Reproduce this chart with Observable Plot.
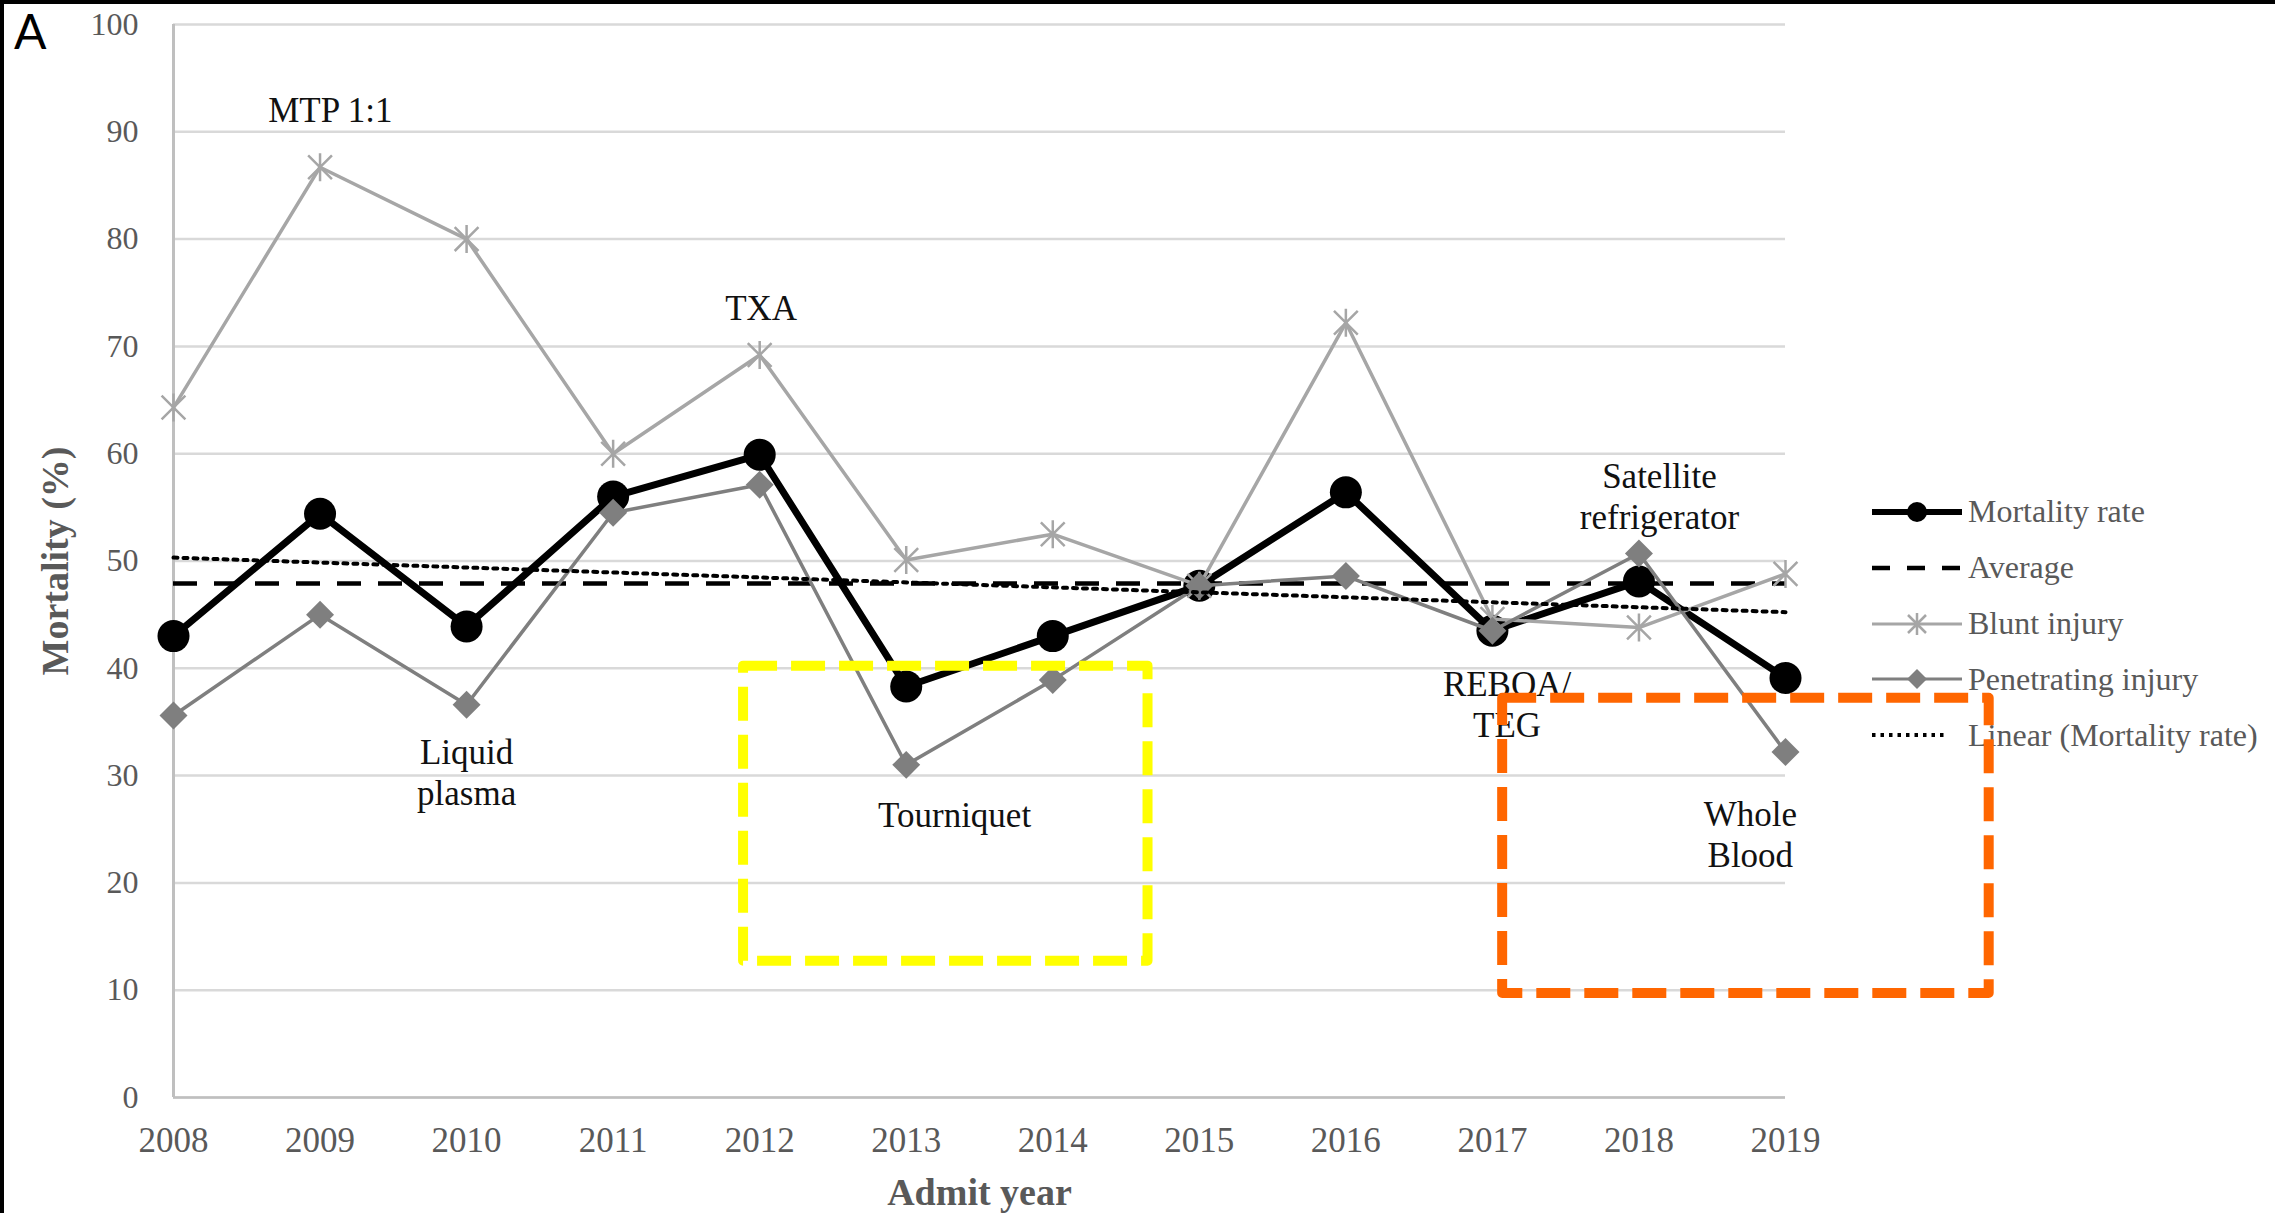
<!DOCTYPE html>
<html>
<head>
<meta charset="utf-8">
<script src="https://cdn.jsdelivr.net/npm/d3@7"></script>
<script src="https://cdn.jsdelivr.net/npm/@observablehq/plot@0.6"></script>
<style>
  html, body { margin: 0; padding: 0; background: #fff; }
  #wrap { position: relative; width: 2275px; height: 1213px; overflow: hidden; background: #fff; }
  #chart { position: absolute; left: 0; top: 0; }
  #legend { position: absolute; left: 1872px; top: 484px; font-family: "Liberation Serif", "Times New Roman", serif; font-size: 32px; color: #595959; }
  .row { display: flex; align-items: center; height: 55.8px; white-space: nowrap; }
  .row svg { flex: none; margin-right: 4px; }
  #panel { position: absolute; left: 14px; top: 7px; font-family: Lato, "Open Sans", sans-serif; font-size: 48px; line-height: 1; color: #000; }
  .frameTop { position: absolute; left: 0; top: 0; width: 2275px; height: 4px; background: #000; }
  .frameLeft { position: absolute; left: 0; top: 0; width: 4px; height: 1213px; background: #000; }
</style>
</head>
<body>
<div id="wrap">
  <div id="legend"></div>
  <div id="chart"></div>
  <div id="panel">A</div>
  <div class="frameTop"></div>
  <div class="frameLeft"></div>
</div>
<script>
// ---- data ----
const years = [2008, 2009, 2010, 2011, 2012, 2013, 2014, 2015, 2016, 2017, 2018, 2019];
const mortality = [43.0, 54.4, 43.9, 56.0, 59.9, 38.3, 43.0, 47.7, 56.4, 43.5, 48.1, 39.1];
const blunt = [64.3, 86.7, 80.0, 60.0, 69.2, 50.1, 52.5, 47.7, 72.2, 44.6, 43.8, 48.8];
const penetrating = [35.6, 45.0, 36.6, 54.5, 57.1, 31.0, 38.9, 47.7, 48.6, 43.5, 50.7, 32.2];
const average = [47.9];
const yTicks = [0, 10, 20, 30, 40, 50, 60, 70, 80, 90, 100];

const noteLabels = ["MTP 1:1", "TXA", "Liquid\nplasma", "Tourniquet", "REBOA/\nTEG", "Satellite\nrefrigerator", "Whole\nBlood"];
const noteYears = [2009.07, 2012.01, 2010.0, 2013.33, 2017.10, 2018.14, 2018.76];
const noteValues = [92.1, 73.7, 30.4, 26.4, 36.7, 56.1, 24.6];

const boxYearStart = [2011.89, 2017.07];
const boxYearEnd = [2014.65, 2020.39];
const boxTop = [40.2, 37.2];
const boxBottom = [12.7, 9.7];

const legendLabels = ["Mortality rate", "Average", "Blunt injury", "Penetrating injury", "Linear (Mortality rate)"];

// ---- styles ----
const boxColors = ["#FFFF00", "#FF6600"];
const bluntColor = "#A6A6A6";
const penColor = "#7F7F7F";

const data = years.map((year, i) => ({year, mortality: mortality[i], blunt: blunt[i], penetrating: penetrating[i]}));
const notes = noteLabels.map((label, i) => ({label, year: noteYears[i], value: noteValues[i]}));
const boxes = boxYearStart.map((x1, i) => ({x1, x2: boxYearEnd[i], y1: boxBottom[i], y2: boxTop[i]}));

// Excel-like star marker (X with a vertical bar)
const excelStar = {
  draw(context, size) {
    const r = Math.sqrt(size / Math.PI);
    const d = r * 0.85;
    context.moveTo(-d, -d); context.lineTo(d, d);
    context.moveTo(-d, d); context.lineTo(d, -d);
    context.moveTo(0, -r); context.lineTo(0, r);
  }
};

const chart = Plot.plot({
  width: 2275,
  height: 1213,
  marginTop: 24,
  marginBottom: 116,
  marginLeft: 173,
  marginRight: 490,
  style: {background: "transparent", fontFamily: "'Liberation Serif', 'Times New Roman', serif", overflow: "visible"},
  x: {type: "linear", domain: [years[0], years[years.length - 1]]},
  y: {domain: [0, 100]},
  marks: [
    Plot.gridY(yTicks, {stroke: "#D9D9D9", strokeOpacity: 1, strokeWidth: 2.5}),
    Plot.ruleY([0], {stroke: "#BFBFBF", strokeWidth: 2.5}),
    Plot.ruleX([years[0]], {stroke: "#BFBFBF", strokeWidth: 3}),
    Plot.axisY(yTicks, {tickSize: 0, tickPadding: 35, fontSize: 32, fill: "#595959", label: null}),
    Plot.axisX(years, {tickSize: 0, tickPadding: 30, fontSize: 35, fill: "#595959", tickFormat: "d", label: null}),
    Plot.axisY({ticks: [], label: "Mortality (%)", labelAnchor: "center", labelArrow: "none", labelOffset: 132, fontSize: 38, fontWeight: "bold", fill: "#595959"}),
    Plot.axisX({ticks: [], label: "Admit year", labelAnchor: "center", labelArrow: "none", labelOffset: 107, fontSize: 38, fontWeight: "bold", fill: "#595959"}),
    Plot.line(data, {x: "year", y: "mortality", stroke: "#000", strokeWidth: 7, strokeLinejoin: "round"}),
    Plot.dot(data, {x: "year", y: "mortality", r: 16, fill: "#000", stroke: "none"}),
    Plot.ruleY(average, {y: d => d, x1: years[0], x2: years[years.length - 1], stroke: "#000", strokeWidth: 4.5, strokeDasharray: "24,17"}),
    Plot.line(data, {x: "year", y: "blunt", stroke: bluntColor, strokeWidth: 3.5}),
    Plot.dot(data, {x: "year", y: "blunt", symbol: excelStar, r: 14, fill: "none", stroke: bluntColor, strokeWidth: 2.5}),
    Plot.line(data, {x: "year", y: "penetrating", stroke: penColor, strokeWidth: 3.5}),
    Plot.dot(data, {x: "year", y: "penetrating", symbol: "diamond2", r: 12.6, fill: penColor, stroke: "none"}),
    Plot.linearRegressionY(data, {x: "year", y: "mortality", stroke: "#000", strokeWidth: 4, strokeDasharray: "4,6", ci: 0}),
    Plot.text(notes, {x: "year", y: "value", text: "label", fontSize: 35, fill: "#111", lineHeight: 1.17, textAnchor: "middle"}),
    Plot.rect([boxes[0]], {x1: "x1", x2: "x2", y1: "y1", y2: "y2", fill: "none", stroke: boxColors[0], strokeWidth: 10, strokeDasharray: "34,14", strokeLinejoin: "round"}),
    Plot.rect([boxes[1]], {x1: "x1", x2: "x2", y1: "y1", y2: "y2", fill: "none", stroke: boxColors[1], strokeWidth: 10, strokeDasharray: "34,14", strokeLinejoin: "round"})
  ]
});
document.getElementById("chart").appendChild(chart);

// ---- legend (HTML + small swatches) ----
const swatches = [
  `<line x1="0" y1="28" x2="90" y2="28" stroke="#000" stroke-width="6"/><circle cx="45" cy="28" r="10" fill="#000"/>`,
  `<line x1="0" y1="28" x2="90" y2="28" stroke="#000" stroke-width="4.5" stroke-dasharray="18,17"/>`,
  `<line x1="0" y1="28" x2="90" y2="28" stroke="${bluntColor}" stroke-width="3"/><path d="M36,19L54,37M36,37L54,19M45,17L45,39" stroke="${bluntColor}" stroke-width="2.5"/>`,
  `<line x1="0" y1="28" x2="90" y2="28" stroke="${penColor}" stroke-width="3"/><path d="M45,18L55,28L45,38L35,28Z" fill="${penColor}"/>`,
  `<line x1="0" y1="28" x2="76" y2="28" stroke="#000" stroke-width="4" stroke-dasharray="3.5,5"/>`
];
const legend = document.getElementById("legend");
legendLabels.forEach((label, i) => {
  const row = document.createElement("div");
  row.className = "row";
  row.innerHTML = `<svg width="92" height="56" viewBox="0 0 92 56">${swatches[i]}</svg><span>${label}</span>`;
  legend.appendChild(row);
});
</script>
</body>
</html>
